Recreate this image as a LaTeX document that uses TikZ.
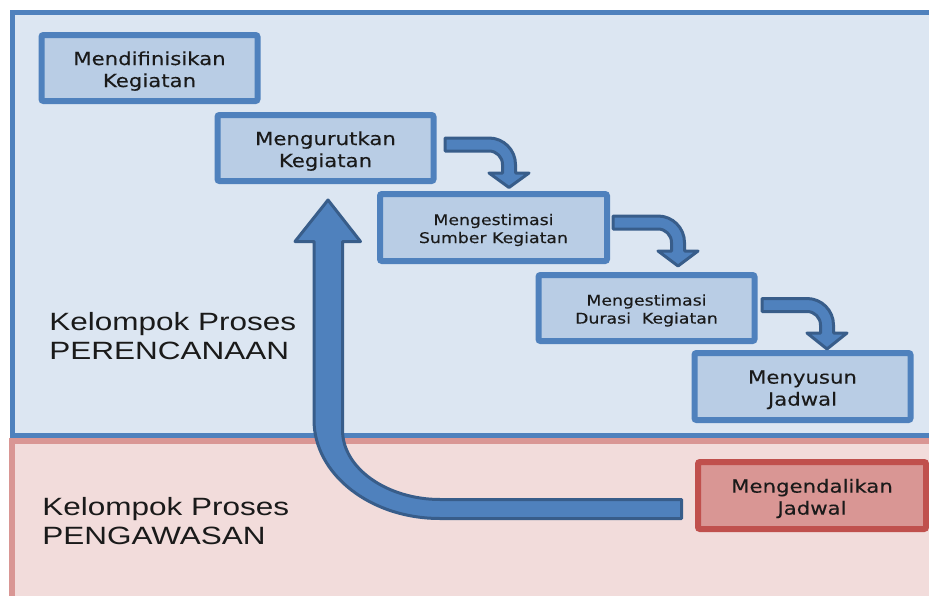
\documentclass[tikz,border=0pt]{standalone}
\usepackage{fontspec}
\setmainfont{DejaVu Sans}
\newfontfamily\boxfont[FakeStretch=1.18,FakeBold=0.3]{DejaVu Sans}
\newfontfamily\groupfont[FakeStretch=1.26]{Liberation Sans}

\definecolor{panelfill}{HTML}{DCE6F2}
\definecolor{panelline}{HTML}{4F81BD}
\definecolor{ctrlpanelfill}{HTML}{F2DCDB}
\definecolor{ctrlpanelline}{HTML}{D99694}
\definecolor{boxfill}{HTML}{B9CDE5}
\definecolor{boxline}{HTML}{4F81BD}
\definecolor{ctrlfill}{HTML}{D99694}
\definecolor{ctrlline}{HTML}{C0504D}
\definecolor{arrowfill}{HTML}{4F81BD}
\definecolor{arrowline}{HTML}{385D8A}
\definecolor{textcol}{HTML}{1A1A1A}

% extra room above the first text line of an activity box
\newcommand\toproom{\rule{0pt}{1.1em}}

% bent block arrow: #1 start x, #2 shaft centre y, #3 x of the drop, #4 y of head base, #5 y of tip
\newcommand\bentarrow[5]{%
  \draw[blockarrow]
    (#1,#2-6.5) -- (#3-20,#2-6.5)
    .. controls (#3-20+14.6,#2-6.5) and (#3+6.5,#2+20-14.6) .. (#3+6.5,#2+20)
    -- (#3+6.5,#4) -- (#3+20,#4) -- (#3,#5) -- (#3-20,#4) -- (#3-6.5,#4)
    -- (#3-6.5,#2+20)
    .. controls (#3-6.5,#2+20-7.5) and (#3-20+7.5,#2+6.5) .. (#3-20,#2+6.5)
    -- (#1,#2+6.5) -- cycle;}

\begin{document}
\begin{tikzpicture}[x=0.75pt,y=-0.75pt,
  task/.style={draw=boxline, fill=boxfill, line width=4.5pt, rounded corners=1.5pt,
    inner sep=0pt, align=center, text=textcol,
    minimum width=162pt, minimum height=49.5pt,
    font={\boxfont\fontsize{13.5}{16.5}\selectfont}},
  smalltask/.style={task, font={\boxfont\fontsize{11}{13.5}\selectfont}},
  ctrltask/.style={task, draw=ctrlline, fill=ctrlfill},
  grouplabel/.style={inner sep=0pt, align=left, anchor=west, text=textcol,
    font={\groupfont\fontsize{18.75}{21.75}\selectfont}},
  blockarrow/.style={draw=arrowline, fill=arrowfill, line width=2.25pt, line join=round}]

\useasboundingbox (0,0) rectangle (929,596);
\clip (0,0) rectangle (929,596);
\fill[white] (0,0) rectangle (929,596);

% process group panels
\draw[fill=ctrlpanelfill, draw=ctrlpanelline, line width=4.5pt] (11.5,440.5) rectangle (960,640);
\draw[fill=panelfill, draw=panelline, line width=3.75pt] (12.5,12.5) rectangle (960,435.5);

% group labels
\node[grouplabel] (plan) at (49,336) {Kelompok Proses\\PERENCANAAN};
\node[grouplabel] (ctrl) at (42,521.5) {Kelompok Proses\\PENGAWASAN};

% activities
\node[task] (def) at (149.5,68) {\toproom Mendifinisikan\\Kegiatan};
\node[task] (seq) at (325.5,148) {\toproom Mengurutkan\\Kegiatan};
\node[smalltask, minimum width=170.25pt, minimum height=50.25pt] (res) at (493.5,227.5) {\toproom Mengestimasi\\Sumber Kegiatan};
\node[smalltask] (dur) at (646.5,308) {\toproom Mengestimasi\\Durasi\ \ Kegiatan};
\node[task, minimum height=50.25pt] (sch) at (802.5,386.5) {\toproom Menyusun\\Jadwal};
\node[ctrltask, minimum width=171pt, minimum height=50.25pt] (con) at (812,495.5) {\toproom Mengendalikan\\Jadwal};

% step arrows between activities
\bentarrow{445}{144.5}{509}{173}{187.5}
\bentarrow{613}{222.5}{678}{251}{266}
\bentarrow{762}{305}{827}{333}{349}

% feedback arrow from control back to sequencing
\draw[blockarrow]
  (681.5,499.5) -- (440,499.5)
  .. controls (388,499.5) and (342.5,469) .. (342.5,430)
  -- (342.5,241.5) -- (360.5,241.5) -- (328,200) -- (295,241.5) -- (314,241.5)
  -- (314,420)
  .. controls (314,474) and (370,518.5) .. (440,518.5)
  -- (681.5,518.5) -- cycle;

\end{tikzpicture}
\end{document}
